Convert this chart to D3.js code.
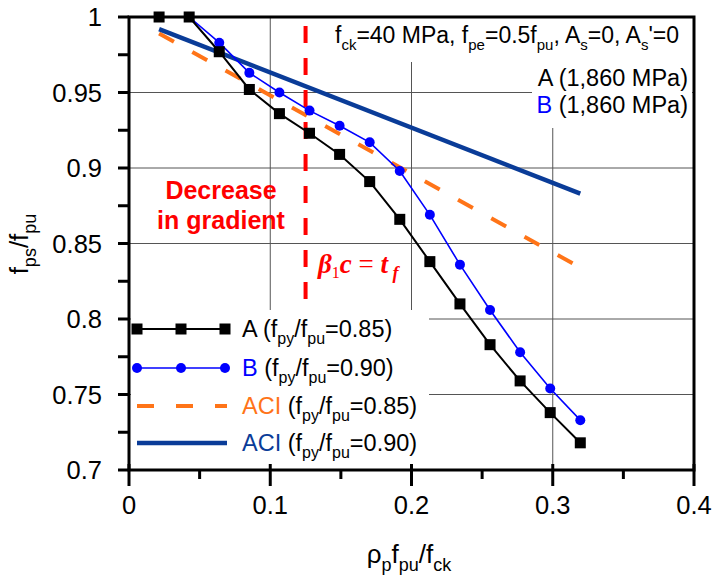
<!DOCTYPE html>
<html><head><meta charset="utf-8">
<script src="https://cdn.jsdelivr.net/npm/d3@7"></script>
<style>
body{margin:0;background:#fff}
svg{display:block}
text{font-family:"Liberation Sans",Arial,sans-serif}
</style>
</head><body>
<svg id="chart" width="717" height="582"></svg>
<script>
// Reinforcement index rho_p*f_pu/f_ck for each analysed section
const reinforcementIndex = [0.0213, 0.0426, 0.0639, 0.0852, 0.1065, 0.1278, 0.1491, 0.1704,
                            0.1917, 0.2130, 0.2343, 0.2556, 0.2769, 0.2982, 0.3195];
// Stress ratio f_ps/f_pu, strand A (f_py/f_pu = 0.85)
const stressRatioA = [1.000, 1.000, 0.977, 0.952, 0.936, 0.923, 0.909, 0.891,
                      0.866, 0.838, 0.810, 0.783, 0.759, 0.738, 0.718];
// Stress ratio f_ps/f_pu, strand B (f_py/f_pu = 0.90)
const stressRatioB = [1.000, 1.000, 0.983, 0.963, 0.950, 0.938, 0.928, 0.917,
                      0.898, 0.869, 0.836, 0.806, 0.778, 0.754, 0.733];
// ACI code lines (straight lines between end points)
const aciIndex = [0.0213, 0.3195];
const aciRatio085 = [0.989, 0.834];
const aciRatio090 = [0.992, 0.883];
// Depth of the compression block reaching the flange thickness
const flangeIndex = 0.125;
const flangeRange = [0.994, 0.812];

const xMajorTicks = [0, 0.1, 0.2, 0.3, 0.4];
const xMinorTicks = [0.05, 0.15, 0.25, 0.35];
const xTickLabels = ["0", "0.1", "0.2", "0.3", "0.4"];
const yMajorTicks = [0.7, 0.75, 0.8, 0.85, 0.9, 0.95, 1];
const yMinorTicks = [0.725, 0.775, 0.825, 0.875, 0.925, 0.975];
const yTickLabels = ["0.7", "0.75", "0.8", "0.85", "0.9", "0.95", "1"];
const xGrid = [0.1, 0.2, 0.3];
const yGrid = [0.75, 0.8, 0.85, 0.9, 0.95];

const colA = "#000000", colB = "#0000ff", colAci85 = "#ff7418", colAci90 = "#0a3c98", colRed = "#ff0000";

const svg = d3.select("#chart");
const x = d3.scaleLinear().domain([0, 0.4]).range([129, 694]);
const y = d3.scaleLinear().domain([0.7, 1]).range([470, 17]);

// rich text with subscripts: parts = [[text, isSub, fill]]
function richText(g, px, py, parts, size, subSize, anchor) {
  const t = g.append("text").attr("x", px).attr("y", py)
    .attr("font-size", size).attr("text-anchor", anchor || "start").attr("fill", "#000");
  const drop = Math.round(size * 0.3);
  let down = false;
  parts.forEach(([s, sub, fill]) => {
    const ts = t.append("tspan").text(s);
    if (fill) ts.attr("fill", fill);
    if (sub) {
      ts.attr("font-size", subSize);
      if (!down) { ts.attr("dy", drop); down = true; }
    } else if (down) { ts.attr("dy", -drop); down = false; }
  });
  return t;
}

// grid
const grid = svg.append("g").attr("stroke", "#555").attr("stroke-width", 1);
grid.selectAll("line.v").data(xGrid).join("line")
  .attr("x1", d => x(d)).attr("x2", d => x(d)).attr("y1", y(1)).attr("y2", y(0.7));
grid.selectAll("line.h").data(yGrid).join("line")
  .attr("x1", x(0)).attr("x2", x(0.4)).attr("y1", d => y(d)).attr("y2", d => y(d));

// opaque text boxes
svg.append("rect").attr("x", 330).attr("y", 18).attr("width", 362).attr("height", 44).attr("fill", "#fff");
svg.append("rect").attr("x", 532).attr("y", 62).attr("width", 160).attr("height", 66).attr("fill", "#fff");
svg.append("rect").attr("x", 131).attr("y", 310).attr("width", 298).attr("height", 158).attr("fill", "#fff");

// frame and axes
const axes = svg.append("g").attr("stroke", "#000").attr("stroke-width", 3).attr("fill", "none");
axes.append("rect").attr("x", x(0)).attr("y", y(1)).attr("width", x(0.4) - x(0)).attr("height", y(0.7) - y(1));
axes.selectAll("line.ym").data(yMajorTicks.concat(yMinorTicks)).join("line")
  .attr("x1", x(0) - 11).attr("x2", x(0)).attr("y1", d => y(d)).attr("y2", d => y(d));
axes.selectAll("line.xM").data(xMajorTicks).join("line")
  .attr("x1", d => x(d)).attr("x2", d => x(d)).attr("y1", y(0.7) - 6).attr("y2", y(0.7) + 16);
axes.selectAll("line.xm").data(xMinorTicks).join("line")
  .attr("x1", d => x(d)).attr("x2", d => x(d)).attr("y1", y(0.7)).attr("y2", y(0.7) + 9);

svg.append("g").selectAll("text").data(yMajorTicks).join("text")
  .attr("x", x(0) - 27).attr("y", d => y(d) + 9).attr("text-anchor", "end")
  .attr("font-size", 25.5).text((d, i) => yTickLabels[i]);
svg.append("g").selectAll("text").data(xMajorTicks).join("text")
  .attr("x", d => x(d)).attr("y", 514).attr("text-anchor", "middle")
  .attr("font-size", 25.5).text((d, i) => xTickLabels[i]);

// axis titles
richText(svg, 409, 563, [["\u03c1", 0], ["p", 1], ["f", 0], ["pu", 1], ["/f", 0], ["ck", 1]], 26, 18, "middle");
const yt = svg.append("g").attr("transform", "translate(28,244) rotate(-90)");
richText(yt, 0, 0, [["f", 0], ["ps", 1], ["/f", 0], ["pu", 1]], 26, 18, "middle");

// flange limit
svg.append("line").attr("x1", x(flangeIndex)).attr("x2", x(flangeIndex))
  .attr("y1", y(flangeRange[0])).attr("y2", y(flangeRange[1]))
  .attr("stroke", colRed).attr("stroke-width", 4).attr("stroke-dasharray", "17,15");

// ACI lines
const aciLine = vals => d3.line().x((d, i) => x(aciIndex[i])).y(d => y(d))(vals);
svg.append("path").attr("d", aciLine(aciRatio085)).attr("fill", "none")
  .attr("stroke", colAci85).attr("stroke-width", 4).attr("stroke-dasharray", "17,21");
svg.append("path").attr("d", aciLine(aciRatio090)).attr("fill", "none")
  .attr("stroke", colAci90).attr("stroke-width", 4.5);

// analysis series
const seriesLine = vals => d3.line().x((d, i) => x(reinforcementIndex[i])).y(d => y(d))(vals);
svg.append("path").attr("d", seriesLine(stressRatioB)).attr("fill", "none").attr("stroke", colB).attr("stroke-width", 1.6);
svg.append("path").attr("d", seriesLine(stressRatioA)).attr("fill", "none").attr("stroke", colA).attr("stroke-width", 2);
svg.append("g").selectAll("circle").data(stressRatioB).join("circle")
  .attr("cx", (d, i) => x(reinforcementIndex[i])).attr("cy", d => y(d)).attr("r", 5).attr("fill", colB);
svg.append("g").selectAll("rect").data(stressRatioA).join("rect")
  .attr("x", (d, i) => x(reinforcementIndex[i]) - 5.5).attr("y", d => y(d) - 5.5)
  .attr("width", 11).attr("height", 11).attr("fill", colA);

// annotations
richText(svg, 335, 43, [["f", 0], ["ck", 1], ["=40 MPa, f", 0], ["pe", 1], ["=0.5f", 0], ["pu", 1],
  [", A", 0], ["s", 1], ["=0, A", 0], ["s", 1], ["'=0", 0]], 23, 15, "start");
svg.append("text").attr("x", 688).attr("y", 86).attr("text-anchor", "end").attr("font-size", 23.5).text("A (1,860 MPa)");
const bt = svg.append("text").attr("x", 688).attr("y", 113).attr("text-anchor", "end").attr("font-size", 23.5);
bt.append("tspan").attr("fill", colB).text("B");
bt.append("tspan").text(" (1,860 MPa)");

const dec = svg.append("g").attr("font-weight", "bold").attr("font-size", 25).attr("text-anchor", "middle");
dec.append("text").attr("x", 221).attr("y", 199).attr("fill", colRed).text("Decrease");
dec.append("text").attr("x", 221).attr("y", 229).attr("fill", colRed).text("in gradient");

const eq = svg.append("text").attr("x", 318).attr("y", 273).attr("fill", colRed)
  .attr("font-size", 27).attr("font-weight", "bold").attr("font-style", "italic")
  .style("font-family", "'Liberation Serif','Times New Roman',serif");
eq.append("tspan").text("\u03b2");
eq.append("tspan").attr("font-size", 16).attr("font-style", "normal").attr("font-weight", "normal").attr("dy", 5).text("1");
eq.append("tspan").attr("dy", -5).text("c");
eq.append("tspan").attr("font-style", "normal").attr("font-weight", "normal").text(" = ");
eq.append("tspan").text("t");
eq.append("tspan").attr("font-size", 18).attr("dy", 6).text(" f");

// legend
const legendRows = [
  {label: "A", col: colA, mark: "square", dash: null, w: 2, y: 329},
  {label: "B", col: colB, mark: "circle", dash: null, w: 1.6, y: 368},
  {label: "ACI", col: colAci85, mark: null, dash: "17,22", w: 4, y: 406},
  {label: "ACI", col: colAci90, mark: null, dash: null, w: 4.5, y: 443}
];
const legendRatio = ["0.85", "0.90", "0.85", "0.90"];
const lg = svg.append("g");
legendRows.forEach((r, k) => {
  lg.append("line").attr("x1", 137).attr("x2", 227).attr("y1", r.y).attr("y2", r.y)
    .attr("stroke", r.col).attr("stroke-width", r.w).attr("stroke-dasharray", r.dash);
  [137, 181, 225].forEach(cx => {
    if (r.mark === "square") lg.append("rect").attr("x", cx - 5.5).attr("y", r.y - 5.5).attr("width", 11).attr("height", 11).attr("fill", r.col);
    if (r.mark === "circle") lg.append("circle").attr("cx", cx).attr("cy", r.y).attr("r", 5).attr("fill", r.col);
  });
  richText(lg, 242, r.y + 8, [[r.label, 0, r.col], [" (f", 0], ["py", 1], ["/f", 0], ["pu", 1], ["=" + legendRatio[k] + ")", 0]], 23.5, 16, "start");
});
</script>
</body></html>
